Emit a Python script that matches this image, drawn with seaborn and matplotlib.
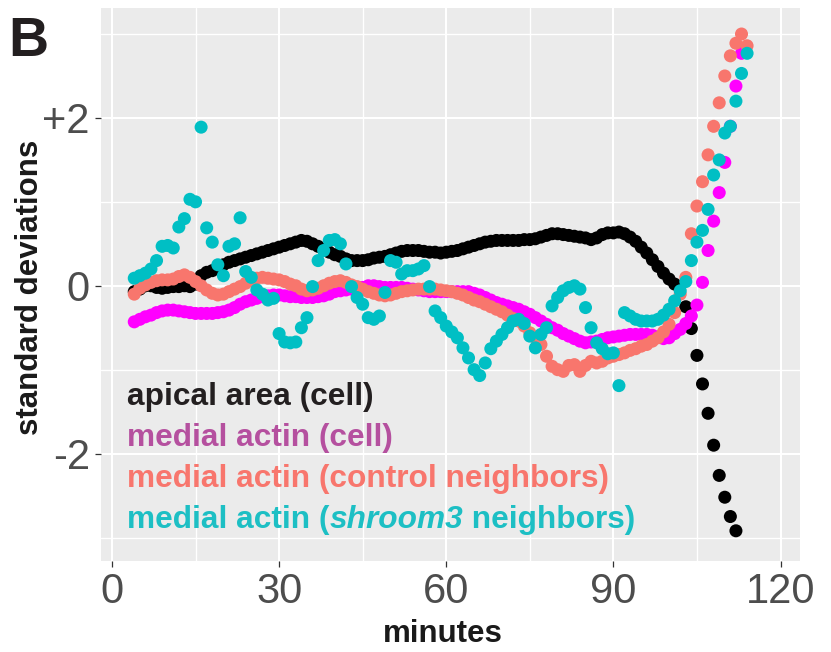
import numpy as np
import pandas as pd
import matplotlib
matplotlib.use("Agg")
import matplotlib.pyplot as plt
import seaborn as sns
from matplotlib.ticker import MultipleLocator

# ============================
# Data (one sample per minute, every series starts at minute 4)
# ============================
START_MIN = 4
nan = np.nan

apical_area = [
    -0.07, -0.04, 0.00, 0.00, -0.02, -0.03, -0.02, -0.01, -0.01, 0.00,
    -0.01, 0.02, 0.12, 0.16, 0.18, 0.22, 0.25, 0.28, 0.30, 0.32,
    0.34, 0.36, 0.38, 0.40, 0.42, 0.44, 0.46, 0.48, 0.50, 0.52,
    0.54, 0.53, 0.50, 0.47, 0.43, 0.40, 0.37, 0.35, 0.32, 0.30,
    0.30, 0.30, 0.31, 0.33, 0.34, 0.35, 0.37, 0.39, 0.41, 0.42,
    0.42, 0.42, 0.41, 0.40, 0.40, 0.39, 0.40, 0.41, 0.42, 0.44,
    0.46, 0.48, 0.50, 0.52, 0.53, 0.54, 0.54, 0.54, 0.54, 0.54,
    0.55, 0.55, 0.56, 0.58, 0.60, 0.62, 0.62, 0.61, 0.60, 0.59,
    0.58, 0.57, 0.55, 0.57, 0.61, 0.63, 0.63, 0.64, 0.62, 0.58,
    0.53, 0.46, 0.39, 0.31, 0.23, 0.15, 0.08, 0.02, nan, -0.25,
    -0.51, -0.83, -1.17, -1.52, -1.90, -2.26, -2.52, -2.75, -2.92,
]

actin_cell = [
    -0.43, -0.40, -0.37, -0.35, -0.32, -0.30, -0.29, -0.29, -0.30, -0.31,
    -0.32, -0.33, -0.33, -0.33, -0.33, -0.32, -0.31, -0.29, -0.26, -0.22,
    -0.19, -0.17, -0.15, -0.13, -0.12, -0.11, -0.11, -0.12, -0.13, -0.13,
    -0.14, -0.14, -0.14, -0.13, -0.12, -0.10, -0.07, -0.06, -0.05, -0.04,
    -0.03, -0.02, 0.00, 0.00, -0.01, -0.02, -0.02, -0.02, -0.02, -0.03,
    -0.04, -0.05, -0.06, -0.07, -0.07, -0.07, -0.07, -0.07, -0.07, -0.07,
    -0.07, -0.09, -0.11, -0.14, -0.17, -0.20, -0.22, -0.24, -0.26, -0.28,
    -0.31, -0.34, -0.38, -0.42, -0.46, -0.50, -0.53, -0.57, -0.60, -0.63,
    -0.66, -0.68, -0.67, -0.66, -0.64, -0.62, -0.61, -0.60, -0.59, -0.58,
    -0.58, -0.58, -0.58, -0.59, -0.61, -0.63, -0.62, -0.57, -0.52, -0.45,
    -0.36, -0.23, 0.04, 0.42, 0.77, 1.11, 1.47, 1.90, 2.38, 2.77,
]

actin_control = [
    -0.10, -0.03, 0.01, 0.04, 0.06, 0.07, 0.07, 0.08, 0.11, 0.13,
    0.10, 0.05, 0.00, -0.05, -0.09, -0.11, -0.10, -0.07, -0.04, -0.01,
    0.03, 0.06, 0.09, 0.10, 0.09, 0.08, 0.07, 0.05, 0.02, 0.00,
    -0.04, -0.06, -0.05, -0.03, 0.00, 0.03, 0.05, 0.06, 0.04, 0.01,
    -0.01, -0.04, -0.07, -0.09, -0.11, -0.12, -0.11, -0.09, -0.07, -0.06,
    -0.05, -0.04, -0.04, -0.04, -0.04, -0.05, -0.06, -0.07, -0.09, -0.11,
    -0.14, -0.17, -0.19, -0.22, -0.25, -0.28, -0.31, -0.35, -0.39, -0.42,
    -0.48, -0.56, -0.62, -0.70, -0.84, -0.96, -1.00, -1.02, -0.95, -0.94,
    -1.02, -0.95, -0.90, -0.92, -0.90, -0.86, -0.84, -0.82, -0.80, -0.77,
    -0.75, -0.72, -0.70, -0.66, -0.62, -0.55, -0.46, -0.32, -0.10, 0.10,
    0.62, 0.95, 1.24, 1.56, 1.90, 2.18, 2.50, 2.74, 2.89, 3.00, 2.86,
]

actin_shroom3 = [
    0.09, 0.12, 0.15, 0.20, 0.30, 0.47, 0.48, 0.45, 0.70, 0.80,
    1.03, 1.00, 1.89, 0.69, 0.52, 0.25, 0.12, 0.47, 0.50, 0.81,
    0.17, 0.10, -0.05, -0.10, -0.17, -0.15, -0.57, -0.67, -0.68, -0.67,
    -0.50, -0.38, -0.01, 0.30, 0.42, 0.54, 0.55, 0.50, 0.26, -0.01,
    -0.14, -0.22, -0.38, -0.40, -0.36, -0.08, 0.30, 0.28, 0.14, 0.18,
    0.18, 0.20, 0.24, -0.01, -0.30, -0.38, -0.48, -0.55, -0.62, -0.74,
    -0.86, -1.00, -1.07, -0.92, -0.75, -0.66, -0.58, -0.50, -0.42, -0.40,
    -0.45, -0.60, -0.74, -0.58, -0.50, -0.24, -0.14, -0.06, -0.02, 0.00,
    -0.04, -0.26, -0.50, -0.68, -0.75, -0.81, -0.80, -1.19, -0.32, -0.36,
    -0.40, -0.42, -0.42, -0.42, -0.40, -0.35, -0.28, -0.18, -0.06, 0.05,
    0.30, 0.52, 0.66, 0.91, 1.32, 1.50, 1.82, 1.90, 2.20, 2.53, 2.77,
]

series = {
    "apical area (cell)": apical_area,
    "medial actin (cell)": actin_cell,
    "medial actin (control neighbors)": actin_control,
    "medial actin (shroom3 neighbors)": actin_shroom3,
}
point_colors = ["#000000", "#FF00FF", "#F8766D", "#00BFC4"]
text_colors = ["#231F20", "#B5509F", "#F8766D", "#1DBFC4"]

frames = []
for name, vals in series.items():
    frames.append(pd.DataFrame({
        "minutes": START_MIN + np.arange(len(vals)),
        "sd": vals,
        "series": name,
    }))
df = pd.concat(frames, ignore_index=True).dropna()

# ============================
# Style (ggplot-like)
# ============================
sns.set_theme(style="darkgrid", rc={
    "axes.facecolor": "#EBEBEB",
    "grid.color": "white",
})
plt.rcParams["font.family"] = ["Liberation Sans", "DejaVu Sans"]

W, H = 831, 652
fig = plt.figure(figsize=(W / 100, H / 100), dpi=100)
ax = fig.add_axes([101 / W, 1 - 561 / H, 699 / W, 553 / H])

sns.scatterplot(
    data=df, x="minutes", y="sd", hue="series",
    hue_order=list(series.keys()), palette=point_colors,
    s=88, linewidth=0, legend=False, ax=ax,
)

ax.set_xlim(-1.97, 123.5)
ax.set_ylim(-3.28, 3.31)
ax.set_xticks([0, 30, 60, 90, 120])
ax.set_yticks([-2, 0, 2])
ax.set_yticklabels(["-2", "0", "+2"])
ax.xaxis.set_minor_locator(MultipleLocator(15))
ax.yaxis.set_minor_locator(MultipleLocator(1))
ax.grid(which="major", color="white", linewidth=1.5)
ax.grid(which="minor", color="white", linewidth=1.0)
ax.set_axisbelow(True)
for sp in ax.spines.values():
    sp.set_visible(False)

ax.tick_params(which="major", length=4.5, width=0.9, color="#333333",
               labelsize=30, labelcolor="#4D4D4D", pad=3.5,
               bottom=True, left=True)
ax.tick_params(which="minor", length=0)
ax.set_xlabel("")
ax.set_ylabel("")

fig.text(443 / W, 1 - 634 / H, "minutes", fontsize=22.5, fontweight="bold",
         ha="center", va="center", color="#1A1A1A")
fig.text(30 / W, 1 - 287 / H, "standard deviations", fontsize=22.5,
         fontweight="bold", rotation=90, ha="center", va="center", color="#1A1A1A")
fig.text(8 / W, 1 - 56 / H, "B", fontsize=40, fontweight="bold",
         ha="left", va="baseline", color="#231F20")

# ============================
# Coloured text legend inside the panel
# ============================
renderer = fig.canvas.get_renderer()
baselines = [405, 446, 487, 528]
legend_pieces = [
    [("apical area (cell)", "normal")],
    [("medial actin (cell)", "normal")],
    [("medial actin (control neighbors)", "normal")],
    [("medial actin (", "normal"), ("shroom3", "italic"), (" neighbors)", "normal")],
]
for pieces, base, col in zip(legend_pieces, baselines, text_colors):
    x_px = 127
    for txt, style in pieces:
        t = fig.text(x_px / W, 1 - base / H, txt, fontsize=22.8,
                     fontweight="bold", fontstyle=style, color=col,
                     ha="left", va="baseline")
        x_px = t.get_window_extent(renderer).x1

fig.savefig("out.png", dpi=100)
